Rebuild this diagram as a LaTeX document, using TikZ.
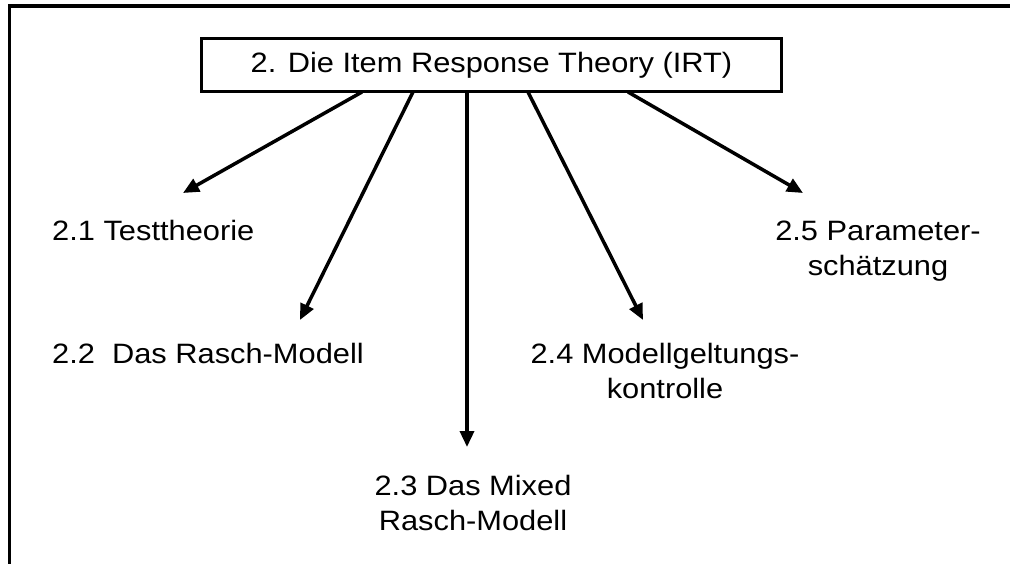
\documentclass[tikz,border=0pt]{standalone}
\usepackage{fontspec}
\setmainfont{Liberation Sans}[FakeStretch=1.10]
\usetikzlibrary{arrows.meta}
\begin{document}
\begin{tikzpicture}[x=1pt,y=-1pt,
  lbl/.style={inner sep=0pt,font=\fontsize{28}{35}\selectfont,align=center},
  arr/.style={line width=3.5pt,-{Triangle[length=16pt,width=14pt]}},
  frame/.style={line width=3.5pt}]
\useasboundingbox (0,0) rectangle (1010,564);
\coordinate (f1) at (9.5,564);
\coordinate (f2) at (9.5,6);
\coordinate (f3) at (1010,6);
\draw[frame] (f1) -- (f2) -- (f3);
\node[draw,line width=3.5pt,minimum width=580pt,minimum height=53pt,inner sep=0pt,
  font=\fontsize{28}{35}\selectfont] (top) at (491.5,65) {2. Die Item Response Theory (IRT)};
\node[lbl,anchor=base west] (t1) at (52,241) {2.1 Testtheorie};
\node[lbl,anchor=base west] (t2) at (52,363) {2.2\ \ Das Rasch-Modell};
\node[lbl,anchor=base] (t3) at (473,530) {2.3 Das Mixed\\Rasch-Modell};
\node[lbl,anchor=base] (t4) at (665,398) {2.4 Modellgeltungs-\\kontrolle};
\node[lbl,anchor=base] (t5) at (878,276) {2.5 Parameter-\\schätzung};
\coordinate (s1) at (362,92);
\coordinate (s2) at (413,92);
\coordinate (s3) at (467,92);
\coordinate (s4) at (528,92);
\coordinate (s5) at (628,92);
\coordinate (e1) at (183,193);
\coordinate (e2) at (300,320);
\coordinate (e3) at (467,447);
\coordinate (e4) at (643,320);
\coordinate (e5) at (803,193);
\draw[arr] (s1) -- (e1);
\draw[arr] (s2) -- (e2);
\draw[arr] (s3) -- (e3);
\draw[arr] (s4) -- (e4);
\draw[arr] (s5) -- (e5);
\end{tikzpicture}
\end{document}
